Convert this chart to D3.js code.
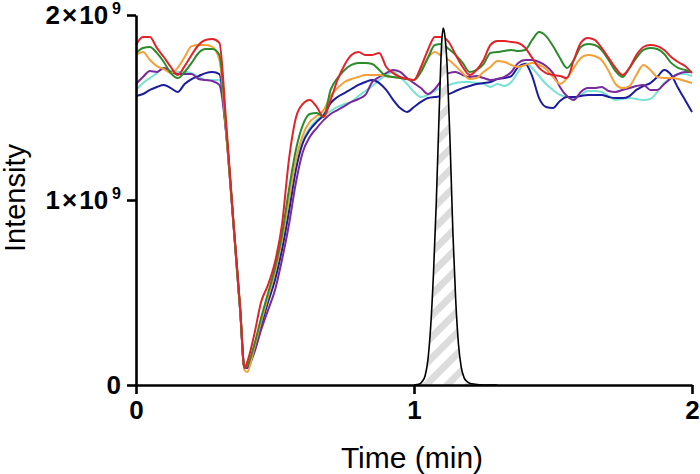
<!DOCTYPE html>
<html>
<head>
<meta charset="utf-8">
<script src="https://cdn.jsdelivr.net/npm/d3@7"></script>
<style>
  html, body { margin: 0; padding: 0; background: #fff; }
  svg { display: block; }
</style>
</head>
<body>
<svg id="chart" width="700" height="474"></svg>
<script>
// ---- data (intensity in units of 10^9) ----
const timeMin = [0, 0.025, 0.05, 0.075, 0.1, 0.125, 0.15, 0.175, 0.2, 0.225, 0.25, 0.275, 0.3, 0.325, 0.35, 0.375, 0.39, 0.4,
  0.425, 0.45, 0.475, 0.5, 0.525, 0.55, 0.575, 0.6, 0.625, 0.65, 0.675, 0.7, 0.725, 0.75, 0.775, 0.8, 0.825, 0.85, 0.875, 0.9,
  0.925, 0.95, 0.975, 1.0, 1.025, 1.05, 1.075, 1.1, 1.125, 1.15, 1.175, 1.2, 1.225, 1.25, 1.275, 1.3, 1.325, 1.35, 1.375, 1.4,
  1.425, 1.45, 1.475, 1.5, 1.525, 1.55, 1.575, 1.6, 1.625, 1.65, 1.675, 1.7, 1.725, 1.75, 1.775, 1.8, 1.825, 1.85, 1.875, 1.9,
  1.925, 1.95, 1.975, 2.0];

const redSeries = [1.838, 1.881, 1.881, 1.822, 1.773, 1.719, 1.676, 1.724, 1.784, 1.838, 1.865, 1.870, 1.849, 1.405, 0.892, 0.416, 0.092, 0.124,
  0.270, 0.449, 0.541, 0.665, 0.865, 1.216, 1.443, 1.519, 1.541, 1.503, 1.449, 1.541, 1.649, 1.730, 1.784, 1.800, 1.784, 1.784, 1.795, 1.719,
  1.686, 1.665, 1.654, 1.649, 1.719, 1.811, 1.881, 1.881, 1.854, 1.784, 1.719, 1.676, 1.703, 1.757, 1.838, 1.859, 1.859, 1.854, 1.849, 1.822,
  1.768, 1.714, 1.686, 1.676, 1.670, 1.659, 1.757, 1.849, 1.876, 1.865, 1.822, 1.768, 1.714, 1.676, 1.714, 1.784, 1.827, 1.838, 1.832, 1.811,
  1.773, 1.746, 1.724, 1.686];

const greenSeries = [1.795, 1.822, 1.827, 1.795, 1.746, 1.686, 1.659, 1.692, 1.741, 1.795, 1.816, 1.816, 1.784, 1.378, 0.892, 0.405, 0.092, 0.103,
  0.216, 0.362, 0.497, 0.632, 0.811, 1.054, 1.270, 1.405, 1.465, 1.470, 1.449, 1.595, 1.659, 1.703, 1.730, 1.741, 1.741, 1.735, 1.703, 1.670,
  1.665, 1.659, 1.654, 1.649, 1.692, 1.768, 1.838, 1.843, 1.816, 1.784, 1.741, 1.692, 1.703, 1.735, 1.795, 1.800, 1.805, 1.811, 1.805, 1.811,
  1.865, 1.908, 1.886, 1.832, 1.768, 1.714, 1.757, 1.827, 1.843, 1.838, 1.811, 1.757, 1.697, 1.665, 1.714, 1.768, 1.811, 1.822, 1.816, 1.789,
  1.741, 1.714, 1.703, 1.692];

const orangeSeries = [1.784, 1.800, 1.757, 1.724, 1.708, 1.686, 1.714, 1.773, 1.832, 1.838, 1.838, 1.827, 1.757, 1.351, 0.881, 0.395, 0.081, 0.070,
  0.200, 0.341, 0.476, 0.611, 0.784, 1.000, 1.216, 1.351, 1.422, 1.454, 1.486, 1.562, 1.605, 1.638, 1.654, 1.665, 1.676, 1.676, 1.676, 1.670,
  1.665, 1.659, 1.654, 1.649, 1.703, 1.768, 1.800, 1.778, 1.757, 1.724, 1.686, 1.654, 1.659, 1.692, 1.719, 1.751, 1.746, 1.730, 1.719, 1.730,
  1.741, 1.730, 1.708, 1.665, 1.627, 1.659, 1.714, 1.768, 1.784, 1.778, 1.757, 1.697, 1.627, 1.605, 1.616, 1.676, 1.730, 1.703, 1.665, 1.659,
  1.659, 1.654, 1.643, 1.632];

const purpleSeries = [1.627, 1.665, 1.697, 1.692, 1.714, 1.692, 1.681, 1.681, 1.681, 1.654, 1.649, 1.643, 1.622, 1.351, 0.881, 0.395, 0.092, 0.092,
  0.173, 0.297, 0.405, 0.514, 0.676, 0.865, 1.092, 1.259, 1.341, 1.389, 1.432, 1.465, 1.486, 1.508, 1.530, 1.546, 1.568, 1.638, 1.665, 1.686,
  1.703, 1.692, 1.659, 1.632, 1.605, 1.573, 1.600, 1.649, 1.686, 1.692, 1.676, 1.665, 1.670, 1.659, 1.649, 1.654, 1.665, 1.692, 1.741, 1.757,
  1.757, 1.746, 1.724, 1.686, 1.611, 1.562, 1.541, 1.584, 1.605, 1.605, 1.611, 1.589, 1.584, 1.595, 1.605, 1.616, 1.622, 1.595, 1.595, 1.627,
  1.659, 1.681, 1.692, 1.692];

const cyanSeries = [1.595, 1.632, 1.659, 1.686, 1.714, 1.697, 1.692, 1.692, 1.686, 1.665, 1.649, 1.649, 1.649, 1.351, 0.881, 0.395, 0.092, 0.092,
  0.200, 0.341, 0.470, 0.595, 0.757, 0.973, 1.189, 1.324, 1.389, 1.432, 1.459, 1.481, 1.503, 1.519, 1.530, 1.562, 1.589, 1.616, 1.649, 1.676,
  1.692, 1.665, 1.627, 1.584, 1.557, 1.568, 1.589, 1.611, 1.622, 1.632, 1.638, 1.638, 1.632, 1.627, 1.611, 1.627, 1.616, 1.638, 1.692, 1.741,
  1.714, 1.670, 1.627, 1.595, 1.568, 1.557, 1.551, 1.568, 1.589, 1.589, 1.584, 1.562, 1.541, 1.546, 1.551, 1.546, 1.541, 1.546, 1.584, 1.632,
  1.659, 1.681, 1.681, 1.670];

const blueSeries = [1.562, 1.573, 1.595, 1.611, 1.622, 1.605, 1.584, 1.627, 1.654, 1.670, 1.686, 1.692, 1.681, 1.351, 0.881, 0.395, 0.092, 0.092,
  0.189, 0.319, 0.449, 0.568, 0.730, 0.935, 1.162, 1.308, 1.378, 1.422, 1.459, 1.524, 1.557, 1.578, 1.600, 1.622, 1.638, 1.649, 1.632, 1.595,
  1.541, 1.497, 1.476, 1.503, 1.530, 1.551, 1.557, 1.562, 1.573, 1.589, 1.605, 1.616, 1.627, 1.632, 1.638, 1.654, 1.659, 1.670, 1.719, 1.735,
  1.670, 1.551, 1.503, 1.497, 1.535, 1.557, 1.557, 1.562, 1.568, 1.568, 1.568, 1.557, 1.551, 1.551, 1.562, 1.595, 1.616, 1.632, 1.665, 1.703,
  1.676, 1.605, 1.541, 1.476];

// reference peak (black outline, hatched)
const peakTime = [1.0, 1.02, 1.03, 1.04, 1.05, 1.06, 1.07, 1.08, 1.09, 1.10, 1.105, 1.11, 1.12, 1.13, 1.14, 1.15, 1.16, 1.17, 1.18, 1.19, 1.20, 1.22, 1.25, 1.3];
const peakValues = [0, 0.005, 0.02, 0.05, 0.136, 0.315, 0.60, 0.98, 1.45, 1.86, 1.93, 1.90, 1.70, 1.30, 0.82, 0.46, 0.22, 0.095, 0.04, 0.02, 0.01, 0.004, 0, 0];

const xTicks = [0, 1, 2];
const xTickLabels = ["0", "1", "2"];
const yTicks = [0, 1, 2];
const yTickMantissa = ["0", "1", "2"];

const seriesList = [
  { name: "cyan", values: cyanSeries, color: "#78e2d4" },
  { name: "blue", values: blueSeries, color: "#1c1c9c" },
  { name: "purple", values: purpleSeries, color: "#792a9c" },
  { name: "orange", values: orangeSeries, color: "#f6a035" },
  { name: "green", values: greenSeries, color: "#2b8b2b" },
  { name: "red", values: redSeries, color: "#e0242a" }
];

// ---- drawing ----
const svg = d3.select("#chart");
const FONT = "'Liberation Sans', Arial, Helvetica, sans-serif";

const x = d3.scaleLinear().domain([0, 2]).range([136, 692]);
const y = d3.scaleLinear().domain([0, 2]).range([385, 15]);

const defs = svg.append("defs");
const pat = defs.append("pattern")
  .attr("id", "hatch")
  .attr("patternUnits", "userSpaceOnUse")
  .attr("width", 15).attr("height", 15)
  .attr("patternTransform", "rotate(45)");
pat.append("rect").attr("width", 15).attr("height", 15).attr("fill", "#fff");
pat.append("rect").attr("width", 7).attr("height", 15).attr("fill", "#dcdcdc");

const line = d3.line()
  .x((d, i) => x(timeMin[i]))
  .y(d => y(d))
  .curve(d3.curveMonotoneX);

const gLines = svg.append("g");
seriesList.forEach(s => {
  gLines.append("path")
    .datum(s.values)
    .attr("fill", "none")
    .attr("stroke", s.color)
    .attr("stroke-width", 2)
    .attr("stroke-linejoin", "round")
    .attr("d", line);
});

// peak
const peakArea = d3.area()
  .x((d, i) => x(peakTime[i]))
  .y0(y(0))
  .y1(d => y(d))
  .curve(d3.curveMonotoneX);
const peakLine = d3.line()
  .x((d, i) => x(peakTime[i]))
  .y(d => y(d))
  .curve(d3.curveMonotoneX);
svg.append("path").datum(peakValues).attr("fill", "url(#hatch)").attr("d", peakArea);
svg.append("path").datum(peakValues).attr("fill", "none").attr("stroke", "#000")
  .attr("stroke-width", 1.6).attr("d", peakLine);

// axes
const yAxis = d3.axisLeft(y).tickValues(yTicks).tickSize(9).tickSizeOuter(0).tickPadding(6);
const gy = svg.append("g").attr("transform", "translate(136,0)").call(yAxis);
const xAxis = d3.axisBottom(x).tickValues(xTicks).tickSize(9).tickSizeOuter(0).tickPadding(7)
  .tickFormat((d, i) => xTickLabels[i]);
const gx = svg.append("g").attr("transform", "translate(0,385)").call(xAxis);

[gx, gy].forEach(g => {
  g.select(".domain").attr("stroke", "#000").attr("stroke-width", 2.6);
  g.selectAll(".tick line").attr("stroke", "#000").attr("stroke-width", 2.6);
  g.selectAll(".tick text")
    .attr("font-family", FONT)
    .attr("font-weight", "bold")
    .attr("font-size", 26)
    .attr("fill", "#000");
});

gy.selectAll(".tick text").each(function (d, i) {
  const t = d3.select(this);
  t.text(null);
  if (d === 0) {
    t.append("tspan").text(yTickMantissa[i]);
  } else {
    t.append("tspan").text(yTickMantissa[i]);
    t.append("tspan").attr("dx", 2).text("\u00d7");
    t.append("tspan").attr("dx", 2).text("10");
    t.append("tspan").attr("dx", 4).attr("dy", -10).attr("font-size", 16).text("9");
  }
});

// titles
svg.append("text")
  .attr("x", 412).attr("y", 468)
  .attr("text-anchor", "middle")
  .attr("font-family", FONT)
  .attr("font-size", 30)
  .text("Time (min)");

svg.append("text")
  .attr("transform", "translate(25,198) rotate(-90)")
  .attr("text-anchor", "middle")
  .attr("font-family", FONT)
  .attr("font-size", 29)
  .text("Intensity");
</script>
</body>
</html>
